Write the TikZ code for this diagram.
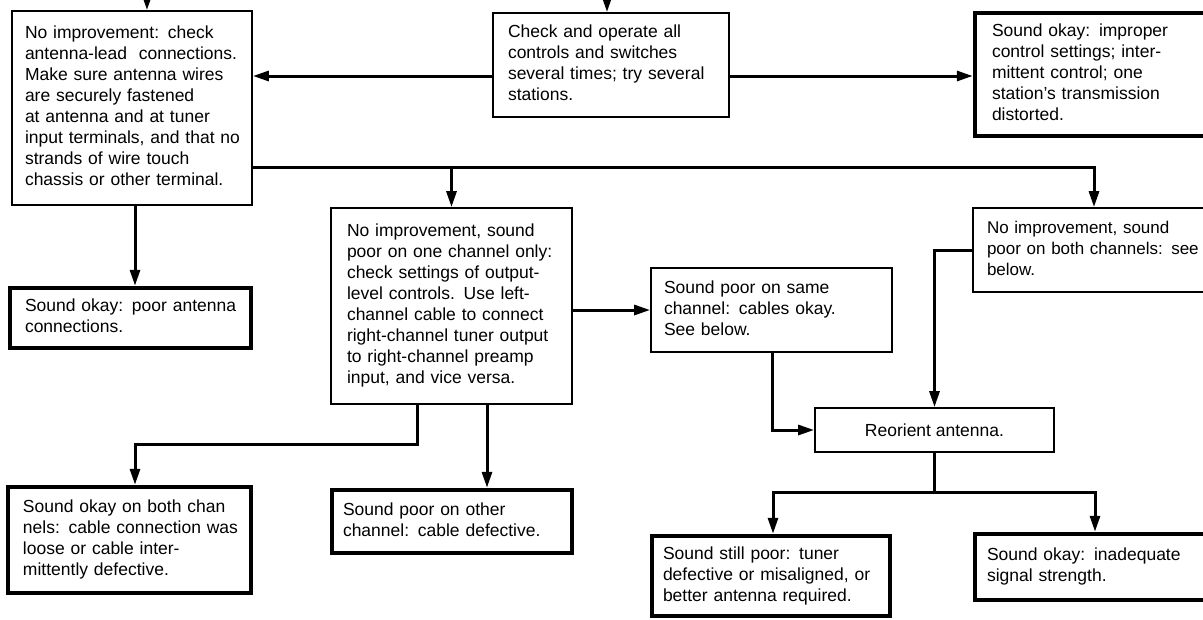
\documentclass[tikz,border=0pt]{standalone}
\usepackage{fontspec}
\setmainfont{Liberation Sans}
\usetikzlibrary{arrows.meta,calc}
\newcommand\boxlines[1]{\begin{tabular}{@{}l@{}}#1\end{tabular}}
\begin{document}
\begin{tikzpicture}[x=1pt,y=-1pt,
  every node/.style={font=\fontsize{17.5}{21}\selectfont},
  thin box/.style={draw, line width=1.8pt, rectangle, inner ysep=0pt, align=left},
  thick box/.style={draw, line width=4.5pt, rectangle, inner ysep=0pt, align=left},
  conn/.style={line width=3pt, line join=miter},
  arr/.style={conn, -{Triangle[length=16pt,width=10pt]}}]
\useasboundingbox (0,0) rectangle (1203,619);
\fill[white] (0,0) rectangle (1203,619);

% boxes
\node[thin box, minimum width=240pt, minimum height=194pt, inner xsep=13pt, text width=214pt] (A) at (132,108)
  {\boxlines{No improvement: check\\ antenna-lead\ \ connections.\\ Make sure antenna wires\\ are securely fastened\\ at antenna and at tuner\\ input terminals, and that no\\ strands of wire touch\\ chassis or other terminal.}};
\node[thin box, minimum width=236pt, minimum height=104pt, inner xsep=15pt, text width=206pt] (B) at (611,65)
  {\boxlines{Check and operate all\\ controls and switches\\ several times; try several\\ stations.}};
\node[thick box, minimum width=240pt, minimum height=123pt, inner xsep=17pt, text width=206pt] (C) at (1095,74.5)
  {\boxlines{Sound okay: improper\\ control settings; inter-\\ mittent control; one\\ station's transmission\\ distorted.}};
\node[thin box, minimum width=242pt, minimum height=84pt, inner xsep=14pt, text width=214pt, font=\fontsize{17}{21}\selectfont] (D) at (1094,250)
  {\boxlines{No improvement, sound\\ poor on both channels: see\\ below.}};
\node[thin box, minimum width=241pt, minimum height=196pt, inner xsep=16pt, text width=209pt] (E) at (451.5,306)
  {\boxlines{No improvement, sound\\ poor on one channel only:\\ check settings of output-\\ level controls. Use left-\\ channel cable to connect\\ right-channel tuner output\\ to right-channel preamp\\ input, and vice versa.}};
\node[thin box, minimum width=241pt, minimum height=84pt, inner xsep=13pt, text width=215pt] (F) at (771.5,310)
  {\boxlines{Sound poor on same\\ channel: cables okay.\\ See below.}};
\node[thin box, minimum width=239pt, minimum height=44pt, align=center] (G) at (934.5,430)
  {Reorient antenna.};
\node[thick box, minimum width=241pt, minimum height=60pt, inner xsep=15pt, text width=211pt] (L) at (130.5,318)
  {\boxlines{Sound okay: poor antenna\\ connections.}};
\node[thick box, minimum width=243pt, minimum height=106pt, inner xsep=15pt, text width=213pt] (J) at (129.5,540)
  {\boxlines{Sound okay on both chan\\ nels: cable connection was\\ loose or cable inter-\\ mittently defective.}};
\node[thick box, minimum width=240pt, minimum height=63pt, inner xsep=11pt, text width=218pt] (K) at (452,521.5)
  {\boxlines{Sound poor on other\\ channel: cable defective.}};
\node[thick box, minimum width=238pt, minimum height=80pt, inner xsep=11pt, text width=216pt] (H) at (771,576)
  {\boxlines{Sound still poor: tuner\\ defective or misaligned, or\\ better antenna required.}};
\node[thick box, minimum width=240pt, minimum height=66pt, inner xsep=12pt, text width=216pt] (I) at (1095,567)
  {\boxlines{Sound okay: inadequate\\ signal strength.}};

% helper coordinates
\coordinate (inA) at (147,-6);
\coordinate (inB) at (607,-4);
\coordinate (ba) at (0,76);
\coordinate (ad) at (0,167);
\coordinate (lx) at (135,0);
\coordinate (xJ) at (417,0);
\coordinate (jx) at (135,444);
\coordinate (kx) at (487,0);
\coordinate (fg) at (772,0);
\coordinate (gy) at (0,492);
\coordinate (hx) at (773,0);

% connectors
\draw[arr] (inA) -- (inA |- A.north);
\draw[arr] (inB) -- (inB |- B.north);
\draw[arr] (B.west |- ba) -- (A.east |- ba);
\draw[arr] (B.east |- ba) -- (C.west |- ba);
\draw[arr] (A.east |- ad) -| (D.north);
\draw[arr] (E.north |- ad) -- (E.north);
\draw[arr] (lx |- A.south) -- (lx |- L.north);
\draw[arr] (E.east |- F.west) -- (F.west);
\draw[arr] (xJ |- E.south) |- (jx) -- (jx |- J.north);
\draw[arr] (kx |- E.south) -- (kx |- K.north);
\draw[arr] (fg |- F.south) |- (G.west);
\draw[arr] (D.west) -| (G.north);
\draw[conn] (G.south) -- (G.south |- gy);
\draw[arr] (G.south |- gy) -| (hx |- H.north);
\draw[arr] (G.south |- gy) -| (I.north);
\end{tikzpicture}
\end{document}
